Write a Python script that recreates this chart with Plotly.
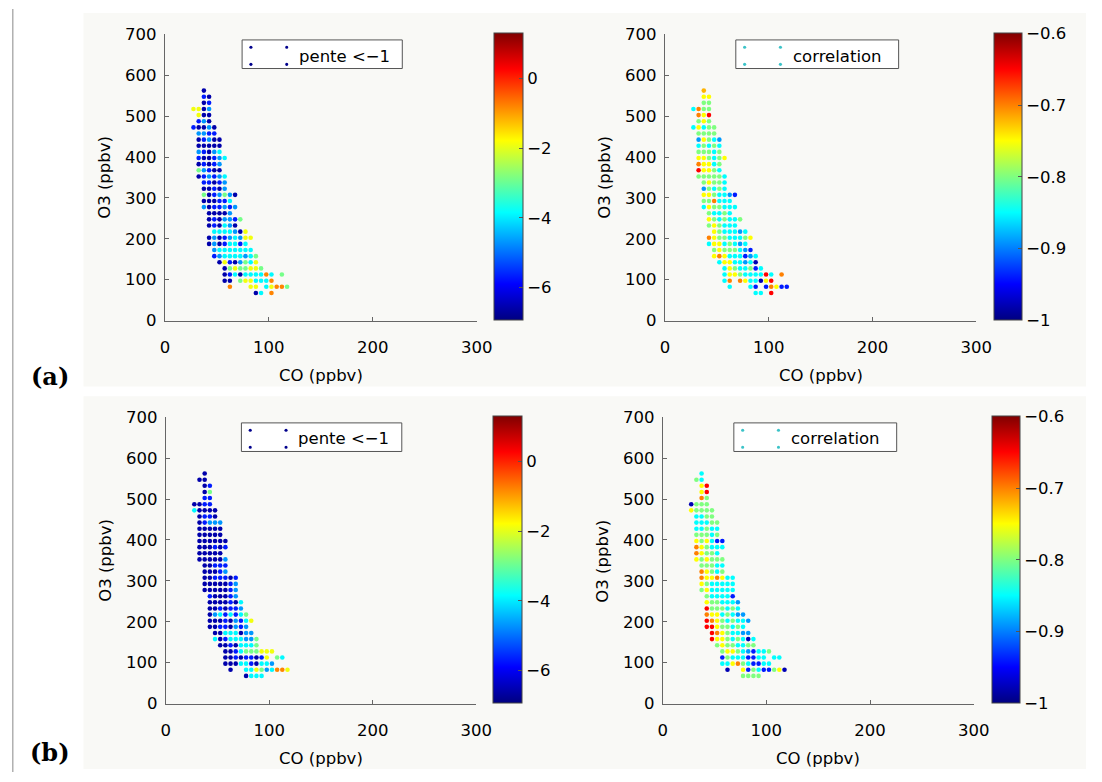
import plotly.graph_objects as go

W, H = 1102, 782

# ---------------- data ----------------
O3_ROWS = [562.5, 547.5, 532.5, 517.5, 502.5, 487.5, 472.5, 457.5, 442.5, 427.5,
           412.5, 397.5, 382.5, 367.5, 352.5, 337.5, 322.5, 307.5, 292.5, 277.5,
           262.5, 247.5, 232.5, 217.5, 202.5, 187.5, 172.5, 157.5, 142.5, 127.5,
           112.5, 97.5, 82.5, 67.5]

CO_A = [
    [37.5],
    [37.5, 42.5],
    [37.5, 42.5],
    [27.5, 32.5, 37.5, 42.5],
    [32.5, 37.5, 42.5],
    [32.5, 37.5, 42.5],
    [27.5, 32.5, 37.5, 42.5, 47.5],
    [32.5, 37.5, 42.5, 47.5],
    [32.5, 37.5, 42.5, 47.5, 52.5],
    [32.5, 37.5, 42.5, 47.5, 52.5],
    [32.5, 37.5, 42.5, 47.5, 52.5],
    [32.5, 37.5, 42.5, 47.5, 52.5, 57.5],
    [32.5, 37.5, 42.5, 47.5, 52.5],
    [32.5, 37.5, 42.5, 47.5, 52.5],
    [32.5, 37.5, 42.5, 47.5, 52.5, 57.5],
    [37.5, 42.5, 47.5, 52.5, 57.5],
    [37.5, 42.5, 47.5, 52.5, 57.5],
    [37.5, 42.5, 47.5, 52.5, 57.5, 62.5, 67.5],
    [37.5, 42.5, 47.5, 52.5, 57.5, 62.5],
    [37.5, 42.5, 47.5, 52.5, 57.5, 62.5, 67.5],
    [42.5, 47.5, 52.5, 57.5, 62.5],
    [42.5, 47.5, 52.5, 57.5, 62.5, 67.5, 72.5],
    [42.5, 47.5, 52.5, 57.5, 62.5, 67.5],
    [47.5, 52.5, 57.5, 62.5, 67.5, 72.5, 77.5],
    [42.5, 47.5, 52.5, 57.5, 62.5, 67.5, 72.5, 77.5, 82.5],
    [42.5, 47.5, 52.5, 57.5, 62.5, 67.5, 72.5, 77.5],
    [47.5, 52.5, 57.5, 62.5, 67.5, 72.5, 77.5, 82.5],
    [47.5, 52.5, 57.5, 62.5, 67.5, 72.5, 77.5, 82.5, 87.5],
    [52.5, 57.5, 62.5, 67.5, 72.5, 77.5, 82.5, 87.5],
    [57.5, 62.5, 67.5, 72.5, 77.5, 82.5, 87.5, 92.5],
    [57.5, 62.5, 67.5, 72.5, 77.5, 82.5, 87.5, 92.5, 97.5, 102.5, 112.5],
    [57.5, 62.5, 72.5, 77.5, 82.5, 87.5, 92.5, 97.5, 102.5],
    [62.5, 82.5, 87.5, 97.5, 102.5, 107.5, 112.5, 117.5],
    [87.5, 92.5, 102.5],
]

SLOPE_A = [
    [-6.6],
    [-5.7, -6.6],
    [-6.6, -5.7],
    [-1.9, -1.9, -6.6, -4.7],
    [-1.9, -6.6, -6.6],
    [-5.7, -4.7, -6.6],
    [-5.7, -6.6, -6.6, -4.7, -6.6],
    [-4.7, -4.7, -5.7, -5.7],
    [-6.6, -5.7, -4.7, -6.6, -6.6],
    [-6.6, -6.6, -6.6, -6.6, -6.6],
    [-4.7, -5.7, -6.6, -4.7, -3.9],
    [-5.7, -6.6, -6.6, -5.7, -4.7, -3.9],
    [-6.6, -5.7, -6.6, -5.7, -4.7],
    [-2.9, -4.7, -5.7, -6.6, -6.6],
    [-6.6, -5.7, -4.7, -5.7, -4.7, -3.9],
    [-5.7, -5.7, -6.6, -5.7, -4.7],
    [-6.6, -6.6, -5.7, -6.6, -4.7],
    [-2.9, -6.6, -5.7, -4.7, -2.9, -4.7, -6.6],
    [-6.6, -6.6, -6.6, -5.7, -5.7, -3.9],
    [-4.7, -6.6, -5.7, -5.7, -4.7, -5.7, -4.7],
    [-6.6, -6.6, -6.6, -6.6, -4.7],
    [-6.6, -5.7, -6.6, -4.7, -4.7, -5.7, -2.9],
    [-6.6, -5.7, -6.6, -3.9, -4.7, -6.6],
    [-3.9, -3.9, -3.9, -3.9, -4.7, -6.6, -1.9],
    [-6.6, -4.7, -6.6, -5.7, -4.7, -3.9, -4.7, -1.9, -1.9],
    [-6.6, -4.7, -6.6, -5.7, -3.9, -3.9, -5.7, -3.9],
    [-4.7, -3.9, -3.9, -3.9, -3.9, -3.9, -3.9, -3.9],
    [-5.7, -4.7, -3.9, -3.9, -3.9, -3.9, -4.7, -3.9, -2.9],
    [-6.6, -1.9, -5.7, -6.6, -4.7, -2.9, -3.9, -1.9],
    [-6.6, -2.9, -1.9, -2.9, -2.9, -1.9, -1.9, -2.9],
    [-6.6, -5.7, -3.9, -6.6, -3.9, -3.9, -3.9, -3.9, -0.8, -3.9, -2.9],
    [-6.6, -6.6, -2.9, -1.9, -1.9, -3.9, -3.9, -3.9, -0.8],
    [-0.8, -1.9, -1.9, -3.9, -1.9, -0.8, -0.8, -2.9],
    [-6.6, -3.9, -0.8],
]

CORR_A = [
    [-0.72],
    [-0.75, -0.75],
    [-0.80, -0.80],
    [-0.85, -0.70, -0.80, -0.80],
    [-0.70, -0.75, -0.65],
    [-0.80, -0.75, -0.80],
    [-0.85, -0.75, -0.85, -0.80, -0.80],
    [-0.80, -0.80, -0.80, -0.80],
    [-0.89, -0.75, -0.80, -0.85, -0.89],
    [-0.85, -0.80, -0.85, -0.80, -0.85],
    [-0.80, -0.80, -0.80, -0.85, -0.80],
    [-0.75, -0.75, -0.80, -0.85, -0.80, -0.75],
    [-0.70, -0.75, -0.75, -0.85, -0.80],
    [-0.65, -0.75, -0.75, -0.80, -0.85],
    [-0.80, -0.80, -0.80, -0.80, -0.80, -0.85],
    [-0.80, -0.75, -0.80, -0.80, -0.85],
    [-0.89, -0.80, -0.85, -0.80, -0.85],
    [-0.75, -0.75, -0.80, -0.85, -0.85, -0.89, -0.94],
    [-0.80, -0.80, -0.70, -0.85, -0.85, -0.85],
    [-0.85, -0.75, -0.80, -0.80, -0.85, -0.85, -0.85],
    [-0.80, -0.85, -0.85, -0.80, -0.85],
    [-0.75, -0.80, -0.85, -0.80, -0.85, -0.85, -0.80],
    [-0.80, -0.75, -0.80, -0.85, -0.85, -0.85],
    [-0.75, -0.80, -0.85, -0.85, -0.85, -0.89, -0.85],
    [-0.70, -0.75, -0.80, -0.80, -0.85, -0.85, -0.85, -0.80, -0.75],
    [-0.85, -0.75, -0.75, -0.85, -0.80, -0.85, -0.89, -0.85],
    [-0.80, -0.75, -0.80, -0.80, -0.80, -0.85, -0.89, -0.94],
    [-0.75, -0.70, -0.75, -0.85, -0.85, -0.85, -0.94, -0.89, -0.85],
    [-0.85, -0.75, -0.75, -0.85, -0.85, -0.89, -0.85, -0.98],
    [-0.85, -0.75, -0.80, -0.85, -0.85, -0.80, -0.94, -0.85],
    [-0.85, -0.75, -0.75, -0.80, -0.85, -0.85, -0.85, -0.85, -0.65, -0.85, -0.70],
    [-0.85, -0.70, -0.70, -0.75, -0.85, -0.85, -0.98, -0.75, -0.65],
    [-0.85, -0.85, -0.94, -0.94, -0.70, -0.75, -0.94, -0.94],
    [-0.85, -0.85, -0.65],
]

CO_B = [
    [37.5],
    [32.5, 37.5],
    [37.5, 42.5],
    [37.5, 42.5],
    [37.5, 42.5],
    [27.5, 32.5, 37.5, 42.5],
    [27.5, 32.5, 37.5, 42.5, 47.5],
    [32.5, 37.5, 42.5, 47.5],
    [32.5, 37.5, 42.5, 47.5, 52.5],
    [32.5, 37.5, 42.5, 47.5, 52.5],
    [32.5, 37.5, 42.5, 47.5, 52.5],
    [32.5, 37.5, 42.5, 47.5, 52.5, 57.5],
    [32.5, 37.5, 42.5, 47.5, 52.5, 57.5],
    [32.5, 37.5, 42.5, 47.5, 52.5],
    [32.5, 37.5, 42.5, 47.5, 52.5, 57.5],
    [37.5, 42.5, 47.5, 52.5, 57.5],
    [37.5, 42.5, 47.5, 52.5, 57.5],
    [37.5, 42.5, 47.5, 52.5, 57.5, 62.5, 67.5],
    [37.5, 42.5, 47.5, 52.5, 57.5, 62.5, 67.5],
    [37.5, 42.5, 47.5, 52.5, 57.5, 62.5, 67.5],
    [42.5, 47.5, 52.5, 57.5, 62.5, 67.5],
    [42.5, 47.5, 52.5, 57.5, 62.5, 67.5, 72.5],
    [42.5, 47.5, 52.5, 57.5, 62.5, 67.5, 72.5],
    [42.5, 47.5, 52.5, 57.5, 62.5, 67.5, 72.5, 77.5],
    [42.5, 47.5, 52.5, 57.5, 62.5, 67.5, 72.5, 77.5, 82.5],
    [42.5, 47.5, 52.5, 57.5, 62.5, 67.5, 72.5, 77.5],
    [47.5, 52.5, 57.5, 62.5, 67.5, 72.5, 77.5, 82.5],
    [47.5, 52.5, 57.5, 62.5, 67.5, 72.5, 77.5, 82.5, 87.5],
    [52.5, 57.5, 62.5, 67.5, 72.5, 77.5, 82.5, 87.5],
    [57.5, 62.5, 67.5, 72.5, 77.5, 82.5, 87.5, 92.5, 97.5, 102.5],
    [57.5, 62.5, 67.5, 72.5, 77.5, 82.5, 87.5, 92.5, 97.5, 107.5, 112.5],
    [57.5, 62.5, 67.5, 72.5, 77.5, 82.5, 87.5, 92.5, 97.5, 102.5],
    [62.5, 77.5, 82.5, 87.5, 92.5, 97.5, 102.5, 107.5, 112.5, 117.5],
    [77.5, 82.5, 87.5, 92.5],
]

SLOPE_B = [
    [-6.6],
    [-6.6, -6.6],
    [-6.6, -5.7],
    [-6.6, -2.9],
    [-5.7, -5.7],
    [-6.6, -6.6, -5.7, -5.7],
    [-3.9, -6.6, -6.6, -6.6, -6.6],
    [-6.6, -5.7, -5.7, -6.6],
    [-6.6, -5.7, -4.7, -4.7, -4.7],
    [-6.6, -6.6, -6.6, -6.6, -6.6],
    [-6.6, -6.6, -6.6, -6.6, -6.6],
    [-6.6, -6.6, -6.6, -6.6, -6.6, -6.6],
    [-6.6, -6.6, -6.6, -5.7, -6.6, -5.7],
    [-6.6, -6.6, -6.6, -6.6, -6.6],
    [-6.6, -6.6, -6.6, -6.6, -6.6, -4.7],
    [-6.6, -6.6, -5.7, -5.7, -5.7],
    [-6.6, -6.6, -6.6, -5.7, -4.7],
    [-6.6, -6.6, -5.7, -5.7, -5.7, -6.6, -5.7],
    [-6.6, -6.6, -6.6, -6.6, -6.6, -5.7, -4.7],
    [-6.6, -6.6, -6.6, -6.6, -6.6, -5.7, -4.7],
    [-5.7, -6.6, -6.6, -6.6, -5.7, -4.7],
    [-6.6, -6.6, -6.6, -6.6, -5.7, -6.6, -3.9],
    [-6.6, -6.6, -5.7, -6.6, -5.7, -5.7, -4.7],
    [-6.6, -4.7, -3.9, -5.7, -3.9, -5.7, -3.9, -2.9],
    [-6.6, -6.6, -6.6, -5.7, -6.6, -4.7, -5.7, -3.9, -1.9],
    [-6.6, -6.6, -5.7, -5.7, -6.6, -4.7, -5.7, -4.7],
    [-6.6, -6.6, -3.9, -3.9, -3.9, -6.6, -4.7, -4.7],
    [-3.9, -6.6, -5.7, -3.9, -3.9, -3.9, -4.7, -4.7, -2.9],
    [-6.6, -6.6, -5.7, -6.6, -3.9, -3.9, -3.9, -2.9],
    [-6.6, -6.6, -5.7, -3.9, -2.9, -2.9, -2.9, -1.9, -1.9, -1.9],
    [-6.6, -6.6, -5.7, -6.6, -5.7, -5.7, -6.6, -5.7, -1.9, -2.9, -3.9],
    [-6.6, -6.6, -6.6, -3.9, -3.9, -5.7, -6.6, -3.9, -3.9, -4.7],
    [-6.6, -3.9, -3.9, -1.9, -2.9, -4.7, -3.9, -0.8, -0.8, -1.9],
    [-6.6, -3.9, -3.9, -3.9],
]

CORR_B = [
    [-0.85],
    [-0.80, -0.85],
    [-0.75, -0.65],
    [-0.75, -0.65],
    [-0.70, -0.80],
    [-0.98, -0.80, -0.80, -0.80],
    [-0.75, -0.80, -0.80, -0.80, -0.80],
    [-0.85, -0.85, -0.80, -0.80],
    [-0.85, -0.85, -0.85, -0.80, -0.80],
    [-0.85, -0.85, -0.80, -0.85, -0.85],
    [-0.80, -0.80, -0.80, -0.85, -0.80],
    [-0.75, -0.80, -0.75, -0.85, -0.94, -0.94],
    [-0.70, -0.75, -0.80, -0.85, -0.85, -0.85],
    [-0.70, -0.75, -0.80, -0.80, -0.85],
    [-0.75, -0.80, -0.75, -0.80, -0.80, -0.80],
    [-0.80, -0.80, -0.80, -0.85, -0.85],
    [-0.70, -0.75, -0.80, -0.85, -0.80],
    [-0.70, -0.75, -0.75, -0.70, -0.75, -0.85, -0.85],
    [-0.75, -0.80, -0.85, -0.85, -0.85, -0.85, -0.85],
    [-0.80, -0.75, -0.85, -0.85, -0.85, -0.85, -0.85],
    [-0.80, -0.85, -0.85, -0.85, -0.85, -0.94],
    [-0.75, -0.80, -0.80, -0.85, -0.85, -0.85, -0.89],
    [-0.65, -0.80, -0.80, -0.80, -0.85, -0.80, -0.85],
    [-0.70, -0.75, -0.75, -0.85, -0.80, -0.85, -0.89, -0.89],
    [-0.65, -0.70, -0.75, -0.80, -0.85, -0.80, -0.85, -0.85, -0.89],
    [-0.65, -0.65, -0.75, -0.80, -0.80, -0.85, -0.80, -0.85],
    [-0.65, -0.70, -0.75, -0.80, -0.85, -0.85, -0.89, -0.89],
    [-0.65, -0.75, -0.75, -0.80, -0.85, -0.80, -0.85, -0.98, -0.85],
    [-0.80, -0.75, -0.80, -0.80, -0.85, -0.85, -0.80, -0.80],
    [-0.80, -0.75, -0.75, -0.80, -0.85, -0.89, -0.94, -0.85, -0.85, -0.80],
    [-0.94, -0.80, -0.85, -0.85, -0.85, -0.94, -0.94, -0.85, -0.85, -0.85, -0.85],
    [-0.85, -0.85, -0.75, -0.70, -0.80, -0.85, -0.94, -0.94, -0.85, -0.85],
    [-0.98, -0.75, -0.94, -0.80, -0.85, -0.94, -0.94, -0.80, -0.75, -0.98],
    [-0.80, -0.80, -0.80, -0.80],
]

X_TICKS = [0, 100, 200, 300]
Y_TICKS = [0, 100, 200, 300, 400, 500, 600, 700]
SLOPE_TICKS = [0, -2, -4, -6]
CORR_TICKS = [-0.6, -0.7, -0.8, -0.9, -1]
SLOPE_RANGE = [-6.95, 1.3]
CORR_RANGE = [-1.0, -0.6]
LEGEND_TEXT = ["pente <\u22121", "correlation"]
PANEL_LABELS = ["(a)", "(b)"]

JET = [[0.0, "rgb(0,0,128)"], [0.125, "rgb(0,0,255)"], [0.375, "rgb(0,255,255)"],
       [0.625, "rgb(255,255,0)"], [0.875, "rgb(255,0,0)"], [1.0, "rgb(128,0,0)"]]


def flat(rows_co, rows_val):
    xs, ys, cs = [], [], []
    for o3, cos, vals in zip(O3_ROWS, rows_co, rows_val):
        assert len(cos) == len(vals)
        for c, v in zip(cos, vals):
            xs.append(c)
            ys.append(o3)
            cs.append(v)
    return xs, ys, cs


def fx(p):
    return p / W


def fy(p):
    return 1 - p / H


FONT = "DejaVu Sans"
TFS = 16.5
DY = 392.5  # vertical offset of lower row of panels (px)

panels = [
    dict(ax="", x0=163, x1=481, yt=26, yb=319.3, cbx=499, cbw=29, lx0=241.7, lx1=405,
         co=CO_A, val=SLOPE_A, rng=SLOPE_RANGE, ticks=SLOPE_TICKS, leg=0, dot="#00008c"),
    dict(ax="2", x0=672.7, x1=990, yt=26, yb=319.3, cbx=1008, cbw=28, lx0=745, lx1=911,
         co=CO_A, val=CORR_A, rng=CORR_RANGE, ticks=CORR_TICKS, leg=1, dot="#3cc3c8"),
    dict(ax="3", x0=164, x1=480.5, yt=26 + DY, yb=319.3 + DY, cbx=497.5, cbw=29, lx0=241, lx1=404.5,
         co=CO_B, val=SLOPE_B, rng=SLOPE_RANGE, ticks=SLOPE_TICKS, leg=0, dot="#00008c"),
    dict(ax="4", x0=670.5, x1=987.5, yt=26 + DY, yb=319.3 + DY, cbx=1006, cbw=28, lx0=743, lx1=909,
         co=CO_B, val=CORR_B, rng=CORR_RANGE, ticks=CORR_TICKS, leg=1, dot="#3cc3c8"),
]

fig = go.Figure()
layout = dict(width=W, height=H, margin=dict(l=0, r=0, t=0, b=0),
              paper_bgcolor="white", plot_bgcolor="rgba(0,0,0,0)",
              showlegend=False, font=dict(family=FONT, size=TFS, color="black"))
shapes = []
annotations = []

# cream backgrounds and left rule
for top, bot in [(4, 387), (397, 779)]:
    shapes.append(dict(type="rect", xref="paper", yref="paper", x0=fx(80), x1=1,
                       y0=fy(bot), y1=fy(top), fillcolor="#f9f9f6", line=dict(width=0), layer="below"))
shapes.append(dict(type="line", xref="paper", yref="paper", x0=fx(8), x1=fx(8), y0=0, y1=1,
                   line=dict(color="#888888", width=1)))

for p in panels:
    xs, ys, cs = flat(p["co"], p["val"])
    xa = "x" + p["ax"]
    ya = "y" + p["ax"]
    fig.add_trace(go.Scatter(
        x=xs, y=ys, mode="markers", xaxis=xa, yaxis=ya, hoverinfo="skip",
        marker=dict(size=4.6, color=cs, colorscale=JET, cmin=p["rng"][0], cmax=p["rng"][1],
                    line=dict(width=0), showscale=True,
                    colorbar=dict(x=fx(p["cbx"]), xanchor="left", xpad=0,
                                  y=fy(p["yt"] - 1), yanchor="top", ypad=0,
                                  len=(p["yb"] - p["yt"] + 1) / H, lenmode="fraction",
                                  thickness=p["cbw"], thicknessmode="pixels",
                                  outlinewidth=1, outlinecolor="#444444",
                                  ticks="inside", ticklen=4, tickcolor="#555555",
                                  tickvals=p["ticks"], tickfont=dict(family=FONT, size=TFS)))))
    layout["xaxis" + p["ax"]] = dict(
        domain=[fx(p["x0"]), fx(p["x1"])], range=[0, 300], anchor=ya,
        tickvals=X_TICKS, ticks="inside", ticklen=4, tickcolor="#666666",
        showline=True, linecolor="#666666", linewidth=1, showgrid=False, zeroline=False,
        tickfont=dict(family=FONT, size=TFS), ticklabelstandoff=12, fixedrange=True)
    layout["yaxis" + p["ax"]] = dict(
        domain=[fy(p["yb"]), fy(p["yt"])], range=[0, 700], anchor=xa,
        tickvals=Y_TICKS, ticks="inside", ticklen=4, tickcolor="#666666",
        showline=True, linecolor="#666666", linewidth=1, showgrid=False, zeroline=False,
        tickfont=dict(family=FONT, size=TFS), ticklabelstandoff=4, fixedrange=True)

    annotations.append(dict(text="CO (ppbv)", xref="paper", yref="paper",
                            x=fx((p["x0"] + p["x1"]) / 2), y=fy(p["yb"] + 56),
                            xanchor="center", yanchor="middle", showarrow=False,
                            font=dict(family=FONT, size=TFS)))
    annotations.append(dict(text="O3 (ppbv)", xref="paper", yref="paper",
                            x=fx(p["x0"] - 61), y=fy(p["yt"] + 147), textangle=-90,
                            xanchor="center", yanchor="middle", showarrow=False,
                            font=dict(family=FONT, size=TFS)))

    ly0 = p["yt"] + 5.7
    ly1 = p["yt"] + 35
    shapes.append(dict(type="rect", xref="paper", yref="paper", x0=fx(p["lx0"]), x1=fx(p["lx1"]),
                       y0=fy(ly1), y1=fy(ly0), fillcolor="white",
                       line=dict(color="#555555", width=1)))
    for dx in (9, 45.5):
        for dy in (7.5, 25):
            cx = p["lx0"] + dx
            cy = ly0 + dy
            shapes.append(dict(type="circle", xref="paper", yref="paper",
                               x0=fx(cx - 1.6), x1=fx(cx + 1.6), y0=fy(cy + 1.6), y1=fy(cy - 1.6),
                               fillcolor=p["dot"], line=dict(width=0)))
    annotations.append(dict(text=LEGEND_TEXT[p["leg"]], xref="paper", yref="paper",
                            x=fx(p["lx0"] + 56), y=fy(ly0 + 16.5), xanchor="left", yanchor="middle",
                            showarrow=False, font=dict(family=FONT, size=TFS)))

for lab, yc in zip(PANEL_LABELS, [377, 762]):
    annotations.append(dict(text="<b>%s</b>" % lab, xref="paper", yref="paper",
                            x=fx(46), y=fy(yc), xanchor="center", yanchor="middle",
                            showarrow=False, font=dict(family="DejaVu Serif", size=24, color="black")))

layout["shapes"] = shapes
layout["annotations"] = annotations
fig.update_layout(**layout)
fig.write_html("out.html", config={"displayModeBar": False, "staticPlot": True},
               post_script="document.body.style.margin='0';document.body.style.overflow='hidden';")
